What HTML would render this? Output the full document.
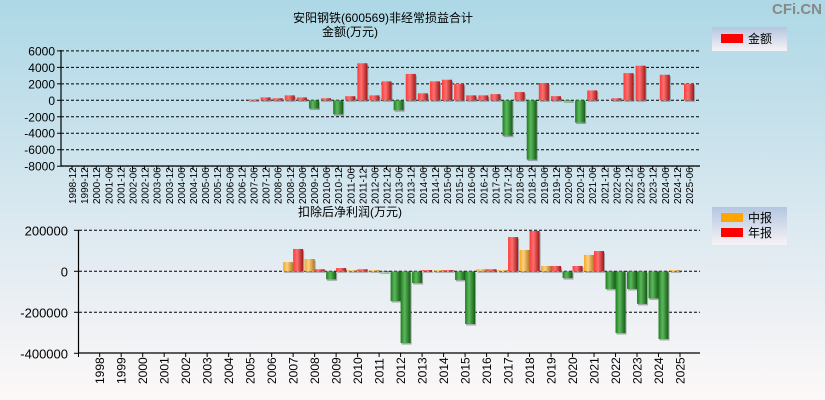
<!DOCTYPE html>
<html><head><meta charset="utf-8"><style>
body{margin:0;padding:0;}
svg{display:block;font-family:"Liberation Sans","Noto Sans CJK SC",sans-serif;}
</style></head><body>
<svg id="c" width="825" height="400" xmlns="http://www.w3.org/2000/svg">
<defs>
<linearGradient id="bg" x1="0" y1="0" x2="0" y2="1"><stop offset="0" stop-color="#add8e6"/><stop offset="0.6" stop-color="#dfeaf1"/><stop offset="1" stop-color="#fdf8f8"/></linearGradient>
<linearGradient id="lg" x1="0" y1="0" x2="0" y2="1"><stop offset="0" stop-color="#b4c6e0"/><stop offset="1" stop-color="#f6f3f6"/></linearGradient>
<linearGradient id="gr" x1="0" y1="0" x2="1" y2="0"><stop offset="0" stop-color="#ff3a3a"/><stop offset="0.4" stop-color="#ff7070"/><stop offset="1" stop-color="#a01818"/></linearGradient>
<linearGradient id="gg" x1="0" y1="0" x2="1" y2="0"><stop offset="0" stop-color="#1e7e1e"/><stop offset="0.4" stop-color="#5cb85c"/><stop offset="1" stop-color="#145c14"/></linearGradient>
<linearGradient id="go" x1="0" y1="0" x2="1" y2="0"><stop offset="0" stop-color="#f5a623"/><stop offset="0.4" stop-color="#ffd080"/><stop offset="1" stop-color="#b07a20"/></linearGradient>
</defs>
<rect width="825" height="400" fill="url(#bg)"/>
<text x="822" y="14" text-anchor="end" font-size="15" font-weight="bold" fill="#888">CFi.CN</text>
<text x="383" y="22" text-anchor="middle" font-size="12">安阳钢铁(600569)非经常损益合计</text>
<text x="350" y="36" text-anchor="middle" font-size="12">金额(万元)</text>
<text x="350" y="216" text-anchor="middle" font-size="12">扣除后净利润(万元)</text>
<g>
<rect x="712" y="27" width="75" height="24" fill="url(#lg)"/>
<rect x="721" y="34" width="22" height="9" fill="#f00"/>
<text x="748" y="43" font-size="12">金额</text>
</g>
<g id="top"></g><g id="bot"></g>
<g>
<rect x="712" y="207" width="75" height="38" fill="url(#lg)"/>
<rect x="721" y="213" width="22" height="9" fill="#ffa500"/>
<text x="748" y="222" font-size="12">中报</text>
<rect x="721" y="228" width="22" height="9" fill="#f00"/>
<text x="748" y="237" font-size="12">年报</text>
</g>
</svg>
<script>
const topCats=["1998-12","1999-12","2000-12","2001-06","2001-12","2002-06","2002-12","2003-06","2003-12","2004-06","2004-12","2005-06","2005-12","2006-06","2006-12","2007-06","2007-12","2008-06","2008-12","2009-06","2009-12","2010-06","2010-12","2011-06","2011-12","2012-06","2012-12","2013-06","2013-12","2014-06","2014-12","2015-06","2015-12","2016-06","2016-12","2017-06","2017-12","2018-06","2018-12","2019-06","2019-12","2020-06","2020-12","2021-06","2021-12","2022-06","2022-12","2023-06","2023-12","2024-06","2024-12","2025-06"];
const topVals=[null,null,null,null,null,null,null,null,null,null,null,null,null,null,null,100,350,250,600,350,-1000,250,-1700,500,4500,600,2300,-1200,3200,850,2300,2500,2000,600,600,750,-4300,1000,-7200,2100,500,-100,-2700,1200,null,250,3300,4200,null,3100,null,2000];
const topTicks=[6000,4000,2000,0,-2000,-4000,-6000,-8000];
const botYears=["1998","1999","2000","2001","2002","2003","2004","2005","2006","2007","2008","2009","2010","2011","2012","2013","2014","2015","2016","2017","2018","2019","2020","2021","2022","2023","2024","2025"];
const midVals=[null,null,null,null,null,null,null,null,null,45000,60000,-39000,6000,6000,-145000,-57000,6000,-42000,10000,6000,104000,26000,-33000,80000,-86000,-86000,-132000,6000];
const annVals=[null,null,null,null,null,null,null,null,null,109000,10000,16000,10000,-3000,-350000,6000,6000,-257000,10000,167000,197000,26000,26000,99000,-301000,-159000,-330000,null];
const botTicks=[200000,0,-200000,-400000];
const NS="http://www.w3.org/2000/svg";
function mk(p,t,a){const e=document.createElementNS(NS,t);for(const k in a)e.setAttribute(k,a[k]);p.appendChild(e);return e;}
const T=document.getElementById('top'),B=document.getElementById('bot');
const ty=v=>100.3-v*(115.3/14000);
const tx=i=>72+i*(689-72)/51;
topTicks.forEach(v=>{const y=ty(v);
 const l=mk(T,'line',{x1:61,x2:700,y1:y,y2:y,stroke:'#000','stroke-dasharray':'3,2','stroke-width':1});
 
 
 mk(T,'line',{x1:57,x2:61,y1:y,y2:y,stroke:'#000'});
 const t=mk(T,'text',{x:55,y:y+4.5,'text-anchor':'end','font-size':12});t.textContent=v;
 
 
});
mk(T,'line',{x1:61,x2:61,y1:50,y2:166,stroke:'#000','stroke-width':1.2});
mk(T,'line',{x1:61,x2:700,y1:166,y2:166,stroke:'#000','stroke-width':1.2});
topCats.forEach((c,i)=>{const x=tx(i);
 mk(T,'line',{x1:x,x2:x,y1:166,y2:170,stroke:'#000'});
 const t=mk(T,'text',{transform:`translate(${x+4},204) rotate(-90)`,'font-size':10});t.textContent=c;
 
 
 const v=topVals[i]; if(v===null)return;
 const y0=ty(0),y1=ty(v),top=Math.min(y0,y1),h=Math.max(Math.abs(y1-y0),1);
 mk(T,'rect',{x:x-4,y:top+1.5,width:10,height:h,fill:'#777',opacity:0.6});
 const r=mk(T,'rect',{x:x-5,y:top,width:10,height:h,fill:v<0?'url(#gg)':'url(#gr)'});
 
 
});
const by=v=>271.3-v*(41/200000);
const bx=i=>99.7+i*(680-99.7)/27;
botTicks.forEach(v=>{const y=by(v);
 if(v>-400000){const l=mk(B,'line',{x1:79,x2:700,y1:y,y2:y,stroke:'#000','stroke-dasharray':'3,2','stroke-width':1});
 
 }
 mk(B,'line',{x1:74,x2:79,y1:y,y2:y,stroke:'#000'});
 const t=mk(B,'text',{x:68,y:y+5,'text-anchor':'end','font-size':13});t.textContent=v;
 
 
});
mk(B,'line',{x1:78.5,x2:78.5,y1:230,y2:353,stroke:'#000','stroke-width':1.2});
mk(B,'line',{x1:78.5,x2:700,y1:353,y2:353,stroke:'#000','stroke-width':1.2});
mk(B,'line',{x1:78.5,x2:78.5,y1:353,y2:357,stroke:'#000'});
botYears.forEach((c,i)=>{const x=bx(i);
 mk(B,'line',{x1:x,x2:x,y1:353,y2:357,stroke:'#000'});
 const t=mk(B,'text',{transform:`translate(${x+4.5},384) rotate(-90)`,'font-size':12});t.textContent=c;
 
 
 [[midVals[i],-10,'url(#go)','mid'],[annVals[i],0,'url(#gr)','annual']].forEach(([v,off,f,n])=>{
  if(v===null)return;
  const y0=by(0),y1=by(v),top=Math.min(y0,y1),h=Math.max(Math.abs(y1-y0),1);
  mk(B,'rect',{x:x+off+1,y:top+1.5,width:10,height:h,fill:'#777',opacity:0.6});
  const r=mk(B,'rect',{x:x+off,y:top,width:10,height:h,fill:v<0?'url(#gg)':f});
  
  
 });
});
</script>
</body></html>
